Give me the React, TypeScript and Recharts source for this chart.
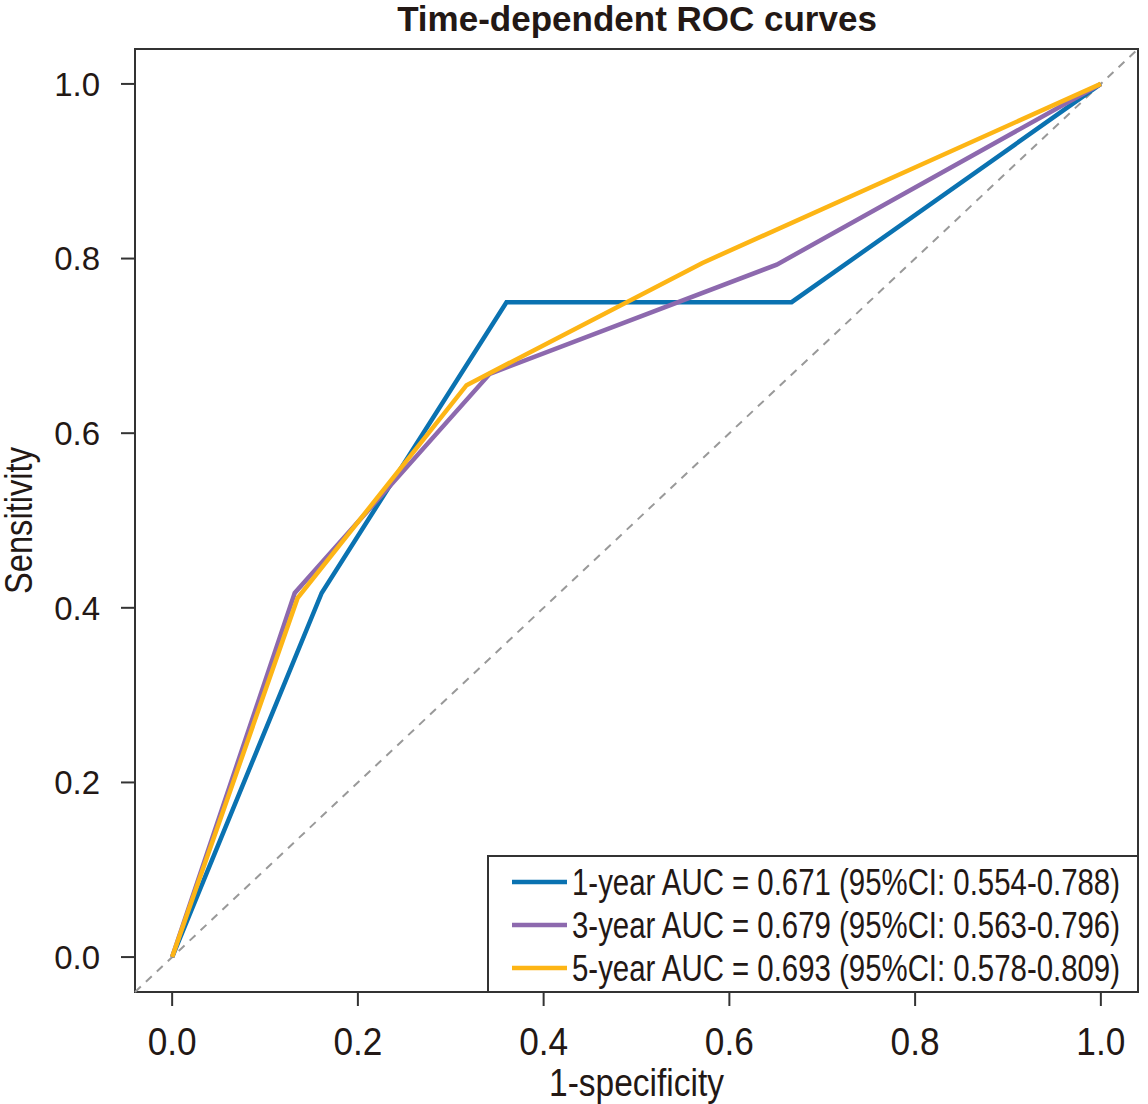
import React from 'react';
import { LineChart, Line, XAxis, YAxis, ReferenceLine, ReferenceArea } from 'recharts';

// ROC points (false positive rate vs sensitivity)
const oneYearFpr = [0, 0.161, 0.36, 0.667, 1];
const oneYearTpr = [0, 0.417, 0.75, 0.75, 1];
const threeYearFpr = [0, 0.132, 0.342, 0.651, 1];
const threeYearTpr = [0, 0.417, 0.668, 0.793, 1];
const fiveYearFpr = [0, 0.135, 0.317, 0.571, 1];
const fiveYearTpr = [0, 0.411, 0.655, 0.795, 1];

const axisTicks = [0, 0.2, 0.4, 0.6, 0.8, 1.0];
const seriesNames = [
  '1-year AUC = 0.671 (95%CI: 0.554-0.788)',
  '3-year AUC = 0.679 (95%CI: 0.563-0.796)',
  '5-year AUC = 0.693 (95%CI: 0.578-0.809)',
];
const seriesColors = ['#0A72B1', '#8D69AE', '#FDB515'];

const toPoints = (fpr: number[], tpr: number[]) => fpr.map((x, i) => ({ fpr: x, tpr: tpr[i] }));
const series = [
  toPoints(oneYearFpr, oneYearTpr),
  toPoints(threeYearFpr, threeYearTpr),
  toPoints(fiveYearFpr, fiveYearTpr),
];

const ink = '#231815';
const font = "'Liberation Sans', Arial, sans-serif";

// the reference uses a narrow face, so squeeze the glyphs to the measured widths
const XTick = (props: any) => {
  const { x, y, payload } = props;
  return (
    <text x={x} y={y + 49} textAnchor="middle" fontFamily={font} fontSize={39} fill={ink}
      textLength={49} lengthAdjust="spacingAndGlyphs">
      {payload.value.toFixed(1)}
    </text>
  );
};

const YLabel = (props: any) => {
  const { viewBox } = props;
  const cy = viewBox.y + viewBox.height / 2;
  const x = 32;
  return (
    <text x={x} y={cy} transform={`rotate(-90, ${x}, ${cy})`} textAnchor="middle" fontFamily={font} fontSize={38}
      fill={ink} textLength={147} lengthAdjust="spacingAndGlyphs">
      Sensitivity
    </text>
  );
};

const XLabel = (props: any) => {
  const { viewBox } = props;
  const cx = viewBox.x + viewBox.width / 2;
  return (
    <text x={cx} y={1096} textAnchor="middle" fontFamily={font} fontSize={38} fill={ink}
      textLength={175} lengthAdjust="spacingAndGlyphs">
      1-specificity
    </text>
  );
};

export default function App() {
  return (
    <div style={{ position: 'absolute', left: 0, top: 0, width: 1148, height: 1104, background: '#fff' }}>
      <LineChart width={1148} height={1104} margin={{ top: 49, right: 10, bottom: 0, left: 0 }}>
        <XAxis
          dataKey="fpr"
          type="number"
          domain={[-0.04, 1.04]}
          allowDataOverflow
          ticks={axisTicks}
          height={112}
          axisLine={false}
          tickSize={14}
          tickMargin={0}
          tickLine={{ stroke: '#333', strokeWidth: 2 }}
          tick={<XTick />}
          label={<XLabel />}
        />
        <YAxis
          type="number"
          domain={[-0.04, 1.04]}
          allowDataOverflow
          ticks={axisTicks}
          tickFormatter={(v: number) => v.toFixed(1)}
          width={135}
          axisLine={false}
          tickSize={14}
          tickMargin={21}
          tickLine={{ stroke: '#333', strokeWidth: 2 }}
          tick={{ fontSize: 33, fontFamily: font, fill: ink }}
          label={<YLabel />}
        />
        <ReferenceLine
          segment={[{ x: -0.04, y: -0.04 }, { x: 1.04, y: 1.04 }]}
          stroke="#999"
          strokeWidth={2}
          strokeDasharray="8 7"
        />
        {series.map((pts, i) => (
          <Line
            key={i}
            data={pts}
            dataKey="tpr"
            type="linear"
            stroke={seriesColors[i]}
            strokeWidth={4.5}
            dot={false}
            isAnimationActive={false}
          />
        ))}
        <ReferenceArea x1={-0.04} x2={1.04} y1={-0.04} y2={1.04} fill="none" stroke="#333" strokeWidth={2} />
      </LineChart>
      <svg width={1148} height={1104} style={{ position: 'absolute', left: 0, top: 0, pointerEvents: 'none' }}>
        <text x={637} y={31} textAnchor="middle" fontFamily={font} fontWeight="bold" fontSize={35} fill={ink}>
          Time-dependent ROC curves
        </text>
        <rect x={488} y={856} width={650} height={136} fill="#fff" stroke="#333" strokeWidth={2} />
        {seriesNames.map((name, i) => {
          const y = 882 + i * 43;
          return (
            <g key={name}>
              <line x1={512} x2={567} y1={y} y2={y} stroke={seriesColors[i]} strokeWidth={4.5} />
              <text x={572} y={y + 13} fontFamily={font} fontSize={36} fill={ink}
                textLength={548} lengthAdjust="spacingAndGlyphs">
                {name}
              </text>
            </g>
          );
        })}
      </svg>
    </div>
  );
}
